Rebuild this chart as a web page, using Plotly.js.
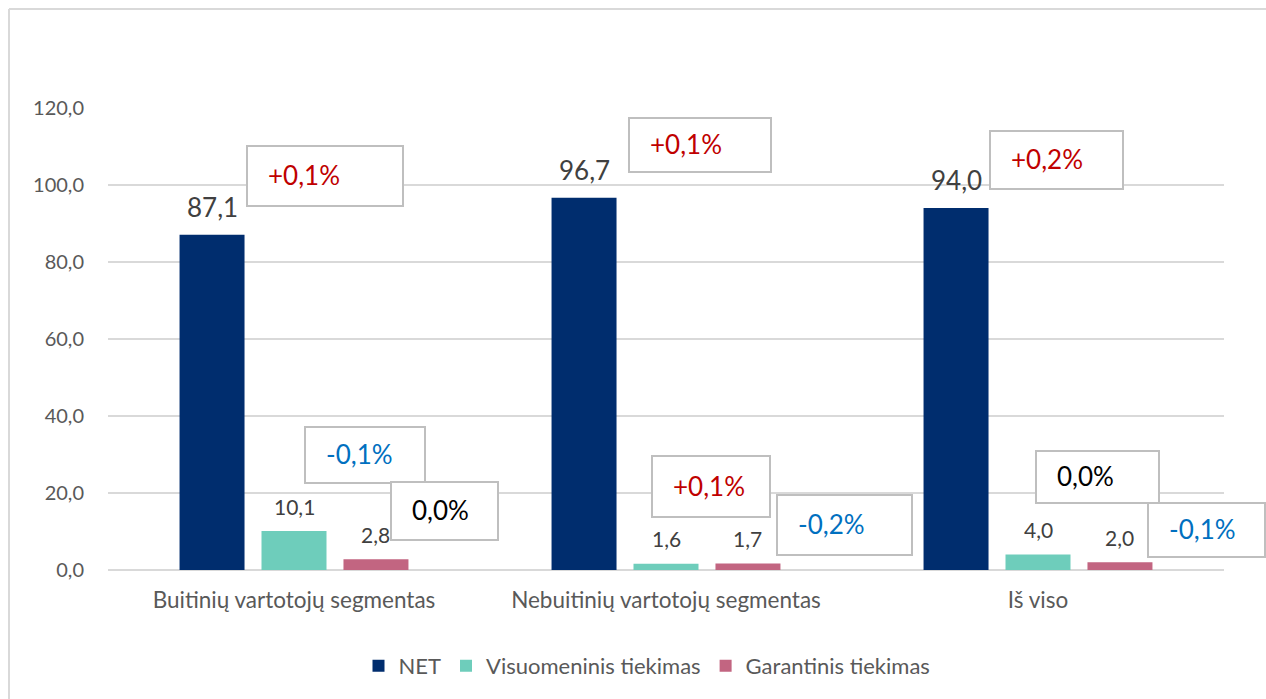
<!DOCTYPE html>
<html>
<head>
<meta charset="utf-8">
<script src="https://cdn.plot.ly/plotly-3.0.1.min.js"></script>
<style>
html,body{margin:0;padding:0;background:#fff;}
#chart{width:1266px;height:699px;}
</style>
</head>
<body>
<div id="chart"></div>
<script>
// ---- data ----
const categories = ['Buitinių vartotojų segmentas', 'Nebuitinių vartotojų segmentas', 'Iš viso'];
const seriesNames = ['NET', 'Visuomeninis tiekimas', 'Garantinis tiekimas'];
const netValues = [87.1, 96.7, 94.0];
const visValues = [10.1, 1.6, 4.0];
const garValues = [2.8, 1.7, 2.0];
const netChange = ['+0,1%', '+0,1%', '+0,2%'];
const visChange = ['-0,1%', '+0,1%', '0,0%'];
const garChange = ['0,0%', '-0,2%', '-0,1%'];
const yTickValues = [0, 20, 40, 60, 80, 100, 120];

// ---- layout geometry (pixels) ----
const W = 1266, H = 699;
const M = {l: 108, r: 42, t: 108, b: 129};
const plotW = W - M.l - M.r, plotH = H - M.t - M.b;
const px = x => (x - M.l) / plotW;
const py = y => (H - M.b - y) / plotH;

const netBoxes = [[247,146,403,206],[629,118,771,172],[990,131,1123,189]];
const visBoxes = [[305,427,425,483],[652,456,770,517],[1036,451,1159,503]];
const garBoxes = [[391,482,498,540],[777,495,912,555],[1148,503,1265,557]];

const colors = ['#002d6e', '#6ecdbb', '#c26581'];
const FONT = 'Lato, "Open Sans", sans-serif';
const BARGAP = 0.339, BARGROUPGAP = 0.207;
const seriesValues = [netValues, visValues, garValues];

function changeColor(s) {
  if (s.trim().startsWith('+')) return '#c00000';
  if (s.trim().startsWith('-')) return '#0070c0';
  return '#000000';
}

const traces = seriesValues.map((vals, i) => ({
  type: 'bar',
  name: seriesNames[i],
  x: categories,
  y: vals,
  marker: {color: colors[i]},
  hoverinfo: 'skip'
}));

const shapes = [
  // outer chart border (left and top edges)
  {type: 'line', xref: 'paper', yref: 'paper', x0: px(9), x1: px(9), y0: py(9), y1: py(H + 20),
   line: {color: '#d9d9d9', width: 2}, layer: 'below'},
  {type: 'line', xref: 'paper', yref: 'paper', x0: px(9), x1: px(W + 20), y0: py(9), y1: py(9),
   line: {color: '#d9d9d9', width: 2}, layer: 'below'}
];
const annotations = [];

// value labels above bars (positioned in data coordinates of the category axis)
const slot = (1 - BARGAP) / seriesValues.length;
seriesValues.forEach((vals, i) => {
  vals.forEach((v, k) => {
    annotations.push({xref: 'x', yref: 'y', x: k + (i - (seriesValues.length - 1) / 2) * slot, y: v,
      xanchor: 'center', yanchor: 'middle', yshift: i === 0 ? 28 : 25, showarrow: false,
      text: v.toFixed(1).replace('.', ','),
      font: {family: FONT, size: i === 0 ? 26 : 21, color: '#404040'}});
  });
});

// change boxes
[[netChange, netBoxes], [visChange, visBoxes], [garChange, garBoxes]].forEach(([labels, boxes]) => {
  labels.forEach((lab, k) => {
    const b = boxes[k];
    shapes.push({type: 'rect', xref: 'paper', yref: 'paper',
      x0: px(b[0]), x1: px(b[2]), y0: py(b[3]), y1: py(b[1]),
      line: {color: '#bfbfbf', width: 2}, fillcolor: '#ffffff', layer: 'above'});
    annotations.push({xref: 'paper', yref: 'paper', x: px(b[0] + 19), y: py((b[1] + b[3]) / 2 - 1),
      xanchor: 'left', yanchor: 'middle', showarrow: false, text: lab,
      font: {family: FONT, size: 26, color: changeColor(lab)}});
  });
});

const layout = {
  width: W, height: H,
  margin: M,
  paper_bgcolor: '#ffffff',
  plot_bgcolor: 'rgba(0,0,0,0)',
  separators: ', ',
  barmode: 'group',
  bargap: BARGAP,
  bargroupgap: BARGROUPGAP,
  font: {family: FONT, color: '#595959'},
  showlegend: true,
  legend: {orientation: 'h', x: px(647), xanchor: 'center', y: py(666), yanchor: 'middle',
    font: {family: FONT, size: 22, color: '#595959'}},
  xaxis: {type: 'category', showgrid: false, showline: false, ticks: '', zeroline: false,
    tickfont: {family: FONT, size: 22.5, color: '#595959'}, ticklabelstandoff: 14, fixedrange: true},
  yaxis: {range: [0, 120], tickvals: yTickValues, tickformat: '.1f', showgrid: true,
    gridcolor: '#d9d9d9', gridwidth: 1.5, zeroline: true, zerolinecolor: '#d9d9d9', zerolinewidth: 1.5,
    showline: false, ticks: '', tickfont: {family: FONT, size: 20, color: '#595959'},
    ticklabelstandoff: 23, fixedrange: true},
  shapes: shapes,
  annotations: annotations
};

Plotly.newPlot('chart', traces, layout, {displayModeBar: false, staticPlot: true});
</script>
</body>
</html>
